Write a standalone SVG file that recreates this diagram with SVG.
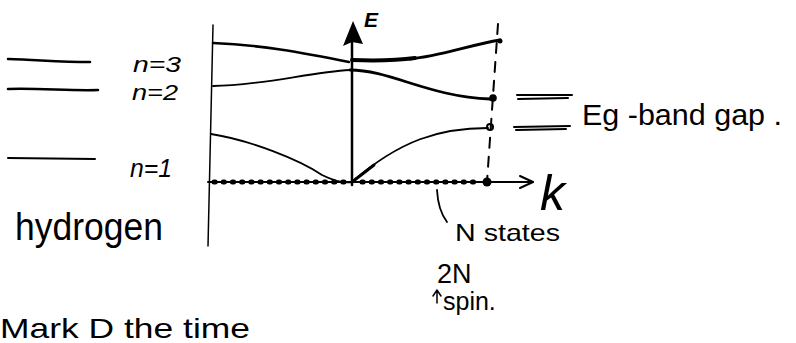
<svg xmlns="http://www.w3.org/2000/svg" width="796" height="343" viewBox="0 0 796 343">
<style>
.ln{fill:none;stroke:#000;stroke-linecap:round;stroke-linejoin:round}
.t{font-family:"Liberation Sans","DejaVu Sans",sans-serif;fill:#000}
</style>
<rect width="796" height="343" fill="#fff"/>
<g id="hydrogen-levels">
<path class="ln" stroke-width="2.5" d="M8,59 C40,60 60,62 90,62"/>
<path class="ln" stroke-width="2.5" d="M8,89 C40,88 70,91 98,90"/>
<path class="ln" stroke-width="2" d="M8,158 L95,159"/>
<text class="t" x="133" y="72" font-size="22" font-style="italic" textLength="48" lengthAdjust="spacingAndGlyphs">n=3</text>
<text class="t" x="132" y="100" font-size="22" font-style="italic" textLength="46" lengthAdjust="spacingAndGlyphs">n=2</text>
<text class="t" x="130" y="177" font-size="25" font-style="italic" textLength="42" lengthAdjust="spacingAndGlyphs">n=1</text>
<text class="t" x="15" y="240" font-size="38" textLength="148" lengthAdjust="spacingAndGlyphs">hydrogen</text>
</g>
<g id="axes">
<path class="ln" stroke-width="1.5" d="M213,25 L208,246"/>
<path class="ln" stroke-width="2" d="M208,182 L533,182"/>
<path class="ln" stroke-width="5" stroke-linecap="butt" stroke-dasharray="1.2 8" d="M214,182 L345,182 M362,182 L480,182"/>
<path class="ln" stroke-width="2" d="M520,176 L533,182 L520,188"/>
<path class="ln" stroke-width="2.5" d="M352,185 L352,40"/>
<path fill="#000" d="M353,21 L343,46 L352,42 L363,44 Z"/>
<text class="t" x="364" y="27" font-size="21" font-weight="bold" font-style="italic">E</text>
<text class="t" x="540" y="210" font-size="50" font-style="italic">k</text>
<path class="ln" stroke-width="2" stroke-dasharray="10 9" d="M498,24 L487,182"/>
<circle cx="487" cy="182" r="4.5" fill="#000"/>
<path class="ln" stroke-width="3" d="M352,182 L374,165"/>
</g>
<g id="bands">
<path class="ln" stroke-width="2.5" d="M213,43 C260,45 300,52 349,62"/>
<path class="ln" stroke-width="4" d="M352,60 C380,61 400,60 415,58"/>
<path class="ln" stroke-width="3" d="M410,59 C440,56 470,45 500,40"/>
<circle cx="500" cy="41" r="2.5" fill="#000"/>
<path class="ln" stroke-width="1.8" d="M213,86 C260,86 310,72 350,70"/>
<path class="ln" stroke-width="2.8" d="M350,70 C390,70 430,97 490,99"/>
<circle cx="493" cy="98" r="3.8" fill="#000"/>
<path class="ln" stroke-width="1.8" d="M211,134 C250,140 300,160 322,175 Q340,184 352,182"/>
<path class="ln" stroke-width="1.8" d="M352,182 C400,140 440,128 488,128"/>
<circle cx="490" cy="127" r="3" fill="none" stroke="#000" stroke-width="2"/>
</g>
<g id="gap-label">
<path class="ln" stroke-width="2" d="M517,95 L572,95 M518,99 L568,98"/>
<path class="ln" stroke-width="2" d="M514,127 L570,126 M516,130 L566,129"/>
<text class="t" x="582" y="125" font-size="30" textLength="200" lengthAdjust="spacingAndGlyphs">Eg -band gap .</text>
</g>
<g id="states-label">
<path class="ln" stroke-width="1.8" d="M437,190 Q438,210 447,222"/>
<text class="t" x="455" y="241" font-size="24" textLength="105" lengthAdjust="spacingAndGlyphs">N states</text>
<text class="t" x="437" y="283" font-size="27">2N</text>
<path class="ln" stroke-width="1.5" d="M437,303 L437,291 M433,296 L437,290 L441,296"/>
<text class="t" x="443" y="310" font-size="25">spin.</text>
</g>
<g id="bottom-note">
<text class="t" x="0" y="338" font-size="28" textLength="250" lengthAdjust="spacingAndGlyphs">Mark  D the time</text>
</g>
</svg>
